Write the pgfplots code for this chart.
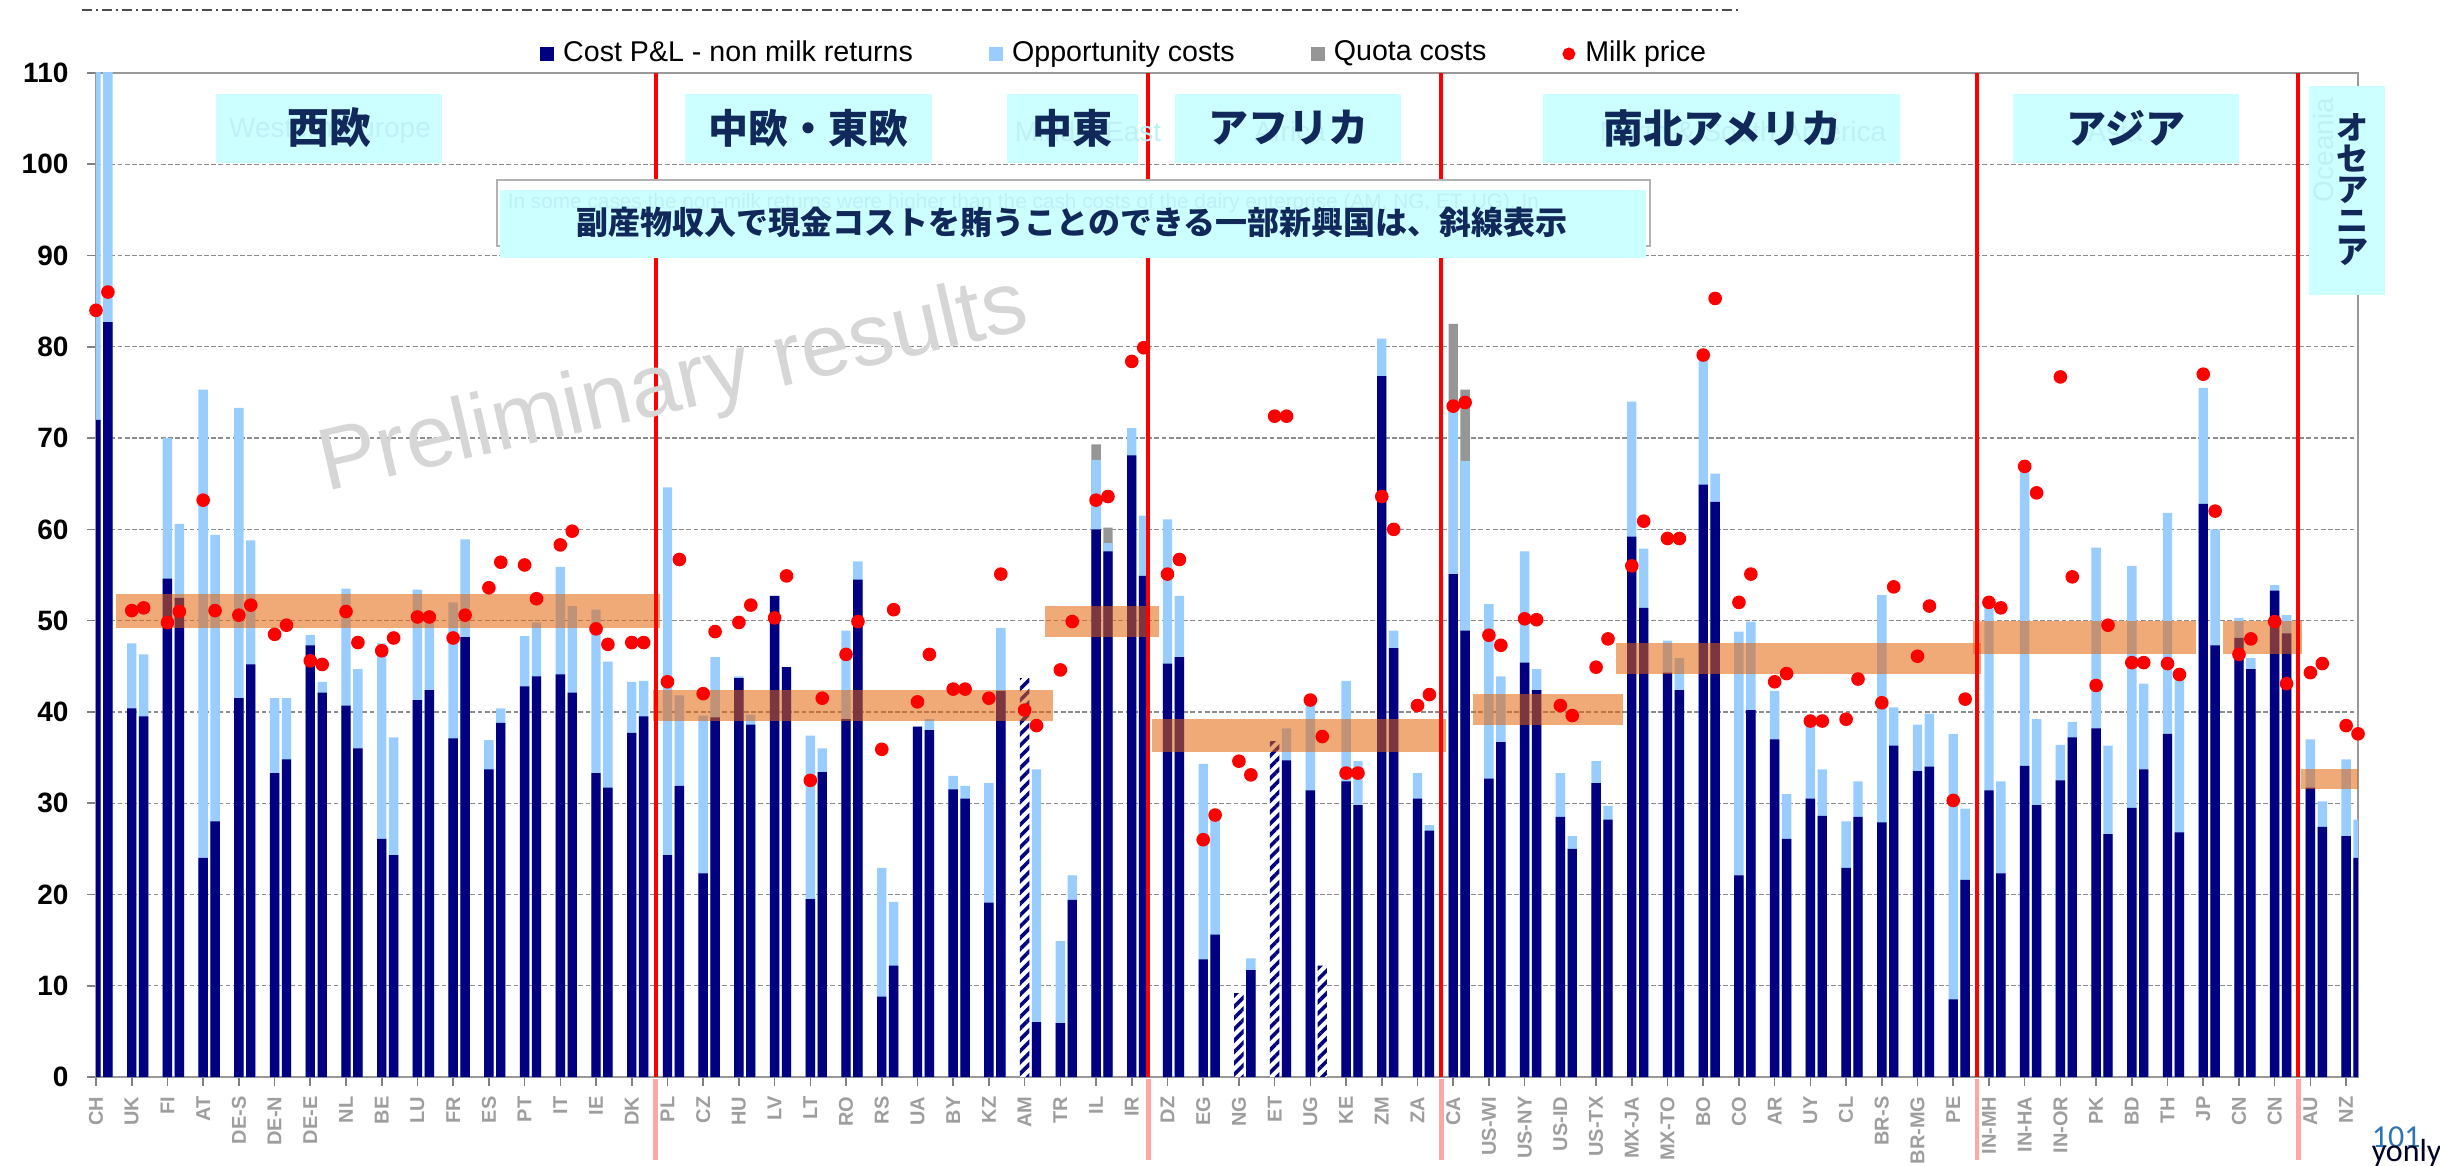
\documentclass[border=0pt]{standalone}
\usepackage{fontspec}
\setmainfont{Liberation Sans}
\newfontfamily\jp{Noto Sans CJK JP}
\newfontfamily\carlito{Carlito}
\usepackage{pgfplots}
\pgfplotsset{compat=1.18}
\usetikzlibrary{patterns.meta}

\definecolor{navybar}{RGB}{0,0,128}
\definecolor{oppblue}{RGB}{153,204,255}
\definecolor{quotagray}{RGB}{150,150,150}
\definecolor{band}{RGB}{225,100,10}
\definecolor{boxcyan}{RGB}{204,255,255}
\definecolor{ghost}{RGB}{188,242,246}
\definecolor{jpnavy}{RGB}{17,40,90}
\definecolor{pageblue}{RGB}{46,117,182}

\pgfplotsset{mybar/.style={ybar, bar width=2.35pt, bar shift=0pt, draw=none, forget plot}}

\begin{document}
\begin{tikzpicture}
\path[use as bounding box] (0,0) rectangle (610pt,-291.5pt);
\begin{axis}[
  at={(24pt,-269.25pt)}, anchor=south west,
  scale only axis, width=565.5pt, height=251pt,
  xmin=0, xmax=190, ymin=0, ymax=110,
  ytick={0,10,...,110},
  xtick={0,3,...,189},
  xticklabels={CH,UK,FI,AT,DE-S,DE-N,DE-E,NL,BE,LU,FR,ES,PT,IT,IE,DK,
    PL,CZ,HU,LV,LT,RO,RS,UA,BY,KZ,AM,TR,IL,IR,DZ,EG,NG,ET,UG,KE,ZM,ZA,
    CA,US-WI,US-NY,US-ID,US-TX,MX-JA,MX-TO,BO,CO,AR,UY,CL,BR-S,BR-MG,PE,
    IN-MH,IN-HA,IN-OR,PK,BD,TH,JP,CN,CN,AU,NZ},
  tick align=outside, tick pos=left,
  major tick length=2.2pt,
  tick style={black!50, line width=0.4pt},
  axis line style={black!40, line width=0.6pt},
  ymajorgrids,
  grid style={black!45, line width=0.3pt, dash pattern=on 1.2pt off 0.6pt},
  /pgf/number format/assume math mode=true,
  yticklabel style={font=\bfseries\fontsize{7}{8}\selectfont, inner sep=0pt, anchor=east},
  yticklabel shift=4.5pt,
  xticklabel style={font=\bfseries\fontsize{5}{6}\selectfont, text=black!38, rotate=90, anchor=east, inner sep=0pt},
  xticklabel shift=2.5pt,
  legend columns=4,
  legend cell align=left,
  legend style={draw=none, fill=none, at={(0.1963,1.019)}, anchor=west,
    inner sep=0pt, outer sep=0pt, font=\fontsize{7.15}{8}\selectfont,
    nodes={inner sep=0pt},
    /tikz/every even column/.append style={column sep=19pt}},
]
\addlegendimage{legend image code/.code={\fill[navybar] (0pt,-1.5pt) rectangle (3.2pt,1.5pt); \path (5.4pt,0pt);}}
\addlegendentry{Cost P\&L - non milk returns}
\addlegendimage{legend image code/.code={\fill[oppblue] (0pt,-1.5pt) rectangle (3.2pt,1.5pt); \path (5.4pt,0pt);}}
\addlegendentry{Opportunity costs}
\addlegendimage{legend image code/.code={\fill[quotagray] (0pt,-1.5pt) rectangle (3.2pt,1.5pt); \path (5.4pt,0pt);}}
\addlegendentry{Quota costs}
\addlegendimage{legend image code/.code={\fill[red] (1.5pt,0pt) circle (1.4pt); \path (5.4pt,0pt);}}
\addlegendentry{Milk price}

% quota costs (cumulative top)
\addplot[mybar, fill=quotagray] coordinates {(84,69.3)(85,60.2)(114,82.5)(115,75.3)};
% opportunity costs (cumulative top)
\addplot[mybar, fill=oppblue] coordinates {
(0,120)(1,120)(3,47.5)(4,46.3)(6,70.0)(7,60.6)(9,75.3)(10,59.4)(12,73.3)(13,58.8)
(15,41.5)(16,41.5)(18,48.4)(19,43.3)(21,53.5)(22,44.7)(24,47.5)(25,37.2)(27,53.4)(28,49.8)
(30,52.0)(31,58.9)(33,36.9)(34,40.4)(36,48.3)(37,49.8)(39,55.9)(40,51.6)(42,51.2)(43,45.5)
(45,43.3)(46,43.4)(48,64.6)(49,41.8)(51,39.6)(52,46.0)(54,43.9)(55,39.7)(57,52.7)(58,44.9)
(60,37.4)(61,36.0)(63,48.9)(64,56.5)(66,22.9)(67,19.2)(69,38.4)(70,39.2)(72,33.0)(73,31.9)
(75,32.2)(76,49.2)(79,33.7)(81,14.9)(82,22.1)(84,67.6)(85,58.5)(87,71.1)(88,61.5)(90,61.1)
(91,52.7)(93,34.3)(94,28.6)(97,13.0)(100,38.2)(102,41.1)(105,43.4)(106,34.6)(108,80.9)(109,48.9)
(111,33.3)(112,27.6)(114,73.3)(115,67.5)(117,51.8)(118,43.9)(120,57.6)(121,44.7)(123,33.3)(124,26.4)
(126,34.6)(127,29.7)(129,74.0)(130,57.9)(132,47.8)(133,45.9)(135,79.1)(136,66.1)(138,48.8)(139,49.9)
(141,42.3)(142,31.0)(144,38.6)(145,33.7)(147,28.0)(148,32.4)(150,52.8)(151,40.5)(153,38.6)(154,39.8)
(156,37.6)(157,29.4)(159,51.6)(160,32.4)(162,66.7)(163,39.2)(165,36.4)(166,38.9)(168,58.0)(169,36.3)
(171,56.0)(172,43.1)(174,61.8)(175,43.5)(177,75.5)(178,60.0)(180,50.3)(181,45.9)(183,53.9)(184,50.6)
(186,37.0)(187,30.2)(189,34.8)(190,28.2)};
% cost P&L - non milk returns
\addplot[mybar, fill=navybar] coordinates {
(0,72.0)(1,82.7)(3,40.4)(4,39.5)(6,54.6)(7,52.5)(9,24.0)(10,28.0)(12,41.5)(13,45.2)
(15,33.3)(16,34.8)(18,47.3)(19,42.1)(21,40.7)(22,36.0)(24,26.1)(25,24.3)(27,41.3)(28,42.4)
(30,37.1)(31,48.2)(33,33.7)(34,38.8)(36,42.8)(37,43.9)(39,44.1)(40,42.1)(42,33.3)(43,31.7)
(45,37.7)(46,39.5)(48,24.3)(49,31.9)(51,22.3)(52,39.4)(54,43.7)(55,38.6)(57,52.7)(58,44.9)
(60,19.5)(61,33.4)(63,39.2)(64,54.5)(66,8.8)(67,12.2)(69,38.4)(70,38.0)(72,31.5)(73,30.5)
(75,19.1)(76,42.3)(79,6.0)(81,5.9)(82,19.4)(84,60.0)(85,57.6)(87,68.1)(88,54.9)(90,45.3)
(91,46.0)(93,12.9)(94,15.6)(97,11.7)(100,34.7)(102,31.4)(105,32.4)(106,29.8)(108,76.8)(109,47.0)
(111,30.5)(112,27.0)(114,55.1)(115,48.9)(117,32.7)(118,36.7)(120,45.4)(121,42.4)(123,28.5)(124,25.0)
(126,32.2)(127,28.2)(129,59.2)(130,51.4)(132,44.3)(133,42.4)(135,64.9)(136,63.0)(138,22.1)(139,40.2)
(141,37.0)(142,26.1)(144,30.5)(145,28.6)(147,22.9)(148,28.5)(150,27.9)(151,36.3)(153,33.5)(154,34.0)
(156,8.5)(157,21.6)(159,31.4)(160,22.3)(162,34.1)(163,29.8)(165,32.5)(166,37.2)(168,38.2)(169,26.6)
(171,29.5)(172,33.7)(174,37.6)(175,26.8)(177,62.8)(178,47.3)(180,48.1)(181,44.7)(183,53.3)(184,48.6)
(186,31.7)(187,27.4)(189,26.4)(190,24.0)};
% hatched: non-milk returns above cash costs
\addplot[mybar, fill=white] coordinates {(78,43.7)(96,9.2)(99,36.8)(103,12.2)};
\addplot[mybar, pattern={Lines[angle=45,distance=2pt,line width=0.9pt]}, pattern color=navybar]
  coordinates {(78,43.7)(96,9.2)(99,36.8)(103,12.2)};

% regional average bands
\fill[band, fill opacity=0.55] (axis cs:1.7,49.2) rectangle (axis cs:47.4,52.9);
\fill[band, fill opacity=0.55] (axis cs:46.8,39.0) rectangle (axis cs:80.4,42.4);
\fill[band, fill opacity=0.55] (axis cs:79.7,48.2) rectangle (axis cs:89.3,51.6);
\fill[band, fill opacity=0.55] (axis cs:88.7,35.6) rectangle (axis cs:113.4,39.2);
\fill[band, fill opacity=0.55] (axis cs:115.7,38.6) rectangle (axis cs:128.3,42.0);
\fill[band, fill opacity=0.55] (axis cs:127.7,44.1) rectangle (axis cs:158.3,47.6);
\fill[band, fill opacity=0.55] (axis cs:157.7,46.3) rectangle (axis cs:176.4,50.0);
\fill[band, fill opacity=0.55] (axis cs:178.7,46.3) rectangle (axis cs:185.3,50.0);
\fill[band, fill opacity=0.55] (axis cs:185.2,31.5) rectangle (axis cs:190,33.7);

% milk price
\addplot[only marks, mark=*, mark size=1.5pt, color=red, mark options={draw=none, fill=red}, forget plot] coordinates {
(0,84.0)(1,86.0)(3,51.1)(4,51.4)(6,49.8)(7,51.0)(9,63.2)(10,51.1)(12,50.6)(13,51.7)
(15,48.5)(16,49.5)(18,45.6)(19,45.2)(21,51.0)(22,47.6)(24,46.7)(25,48.1)(27,50.4)(28,50.4)
(30,48.1)(31,50.6)(33,53.6)(34,56.4)(36,56.1)(37,52.4)(39,58.3)(40,59.8)(42,49.1)(43,47.4)
(45,47.6)(46,47.6)(48,43.3)(49,56.7)(51,42.0)(52,48.8)(54,49.8)(55,51.7)(57,50.3)(58,54.9)
(60,32.5)(61,41.5)(63,46.3)(64,49.9)(66,35.9)(67,51.2)(69,41.1)(70,46.3)(72,42.5)(73,42.5)
(75,41.5)(76,55.1)(78,40.2)(79,38.5)(81,44.6)(82,49.9)(84,63.2)(85,63.6)(87,78.4)(88,79.9)
(90,55.1)(91,56.7)(93,26.0)(94,28.7)(96,34.6)(97,33.1)(99,72.4)(100,72.4)(102,41.3)(103,37.3)
(105,33.3)(106,33.3)(108,63.6)(109,60.0)(111,40.7)(112,41.9)(114,73.5)(115,73.9)(117,48.4)(118,47.3)
(120,50.2)(121,50.1)(123,40.7)(124,39.6)(126,44.9)(127,48.0)(129,56.0)(130,60.9)(132,59.0)(133,59.0)
(135,79.1)(136,85.3)(138,52.0)(139,55.1)(141,43.3)(142,44.2)(144,39.0)(145,39.0)(147,39.2)(148,43.6)
(150,41.0)(151,53.7)(153,46.1)(154,51.6)(156,30.3)(157,41.4)(159,52.0)(160,51.4)(162,66.9)(163,64.0)
(165,76.7)(166,54.8)(168,42.9)(169,49.5)(171,45.4)(172,45.4)(174,45.3)(175,44.1)(177,77.0)(178,62.0)
(180,46.3)(181,48.0)(183,49.9)(184,43.1)(186,44.3)(187,45.3)(189,38.5)(190,37.6)};

% region separators
\draw[red, line width=1pt] (axis cs:47,0) -- (axis cs:47,110);
\draw[red, line width=1pt] (axis cs:88.4,0) -- (axis cs:88.4,110);
\draw[red, line width=1pt] (axis cs:113,0) -- (axis cs:113,110);
\draw[red, line width=1pt] (axis cs:158,0) -- (axis cs:158,110);
\draw[red, line width=1pt] (axis cs:185,0) -- (axis cs:185,110);
\end{axis}

% overlays, in pixel coordinates of the reference
\begin{scope}[x=0.25pt, y=-0.25pt]
\draw[black!70, line width=0.4pt, dash pattern=on 2.5pt off 1pt on 0.5pt off 1pt] (82,10) -- (1738,10);

\foreach \xx in {655.5,1148.4,1441.3,1977,2298.4}
  \draw[red!35, line width=1.2pt] (\xx,1079) -- (\xx,1160);

\node[rotate=13, text=black!16, font=\fontsize{22}{24}\selectfont] at (674,388) {Preliminary results};

% region boxes
\fill[boxcyan] (216,94) rectangle (442,163);
\node[text=ghost, font=\fontsize{7}{8}\selectfont] at (330,131) {Western Europe};
\node[text=jpnavy, font=\jp\bfseries\fontsize{10.5}{12}\selectfont] at (329,128) {西欧};

\fill[boxcyan] (685,94) rectangle (932,163);
\node[text=jpnavy, font=\jp\bfseries\fontsize{10}{12}\selectfont] at (808,128) {中欧・東欧};

\fill[boxcyan] (1007,94) rectangle (1138,163);
\node[text=ghost, font=\fontsize{7}{8}\selectfont] at (1088,131) {Middle East};
\node[text=jpnavy, font=\jp\bfseries\fontsize{10}{12}\selectfont] at (1072,128) {中東};

\fill[boxcyan] (1175,94) rectangle (1401,163);
\node[text=ghost, font=\fontsize{7}{8}\selectfont] at (1290,131) {Africa};
\node[text=jpnavy, font=\jp\bfseries\fontsize{10}{12}\selectfont] at (1288,128) {アフリカ};

\fill[boxcyan] (1543,94) rectangle (1900,163);
\node[text=ghost, font=\fontsize{7}{8}\selectfont] at (1743,131) {North \& South America};
\node[text=jpnavy, font=\jp\bfseries\fontsize{10}{12}\selectfont] at (1722,128) {南北アメリカ};

\fill[boxcyan] (2013,94) rectangle (2239,163);
\node[text=ghost, font=\fontsize{7}{8}\selectfont] at (2115,131) {Asia};
\node[text=jpnavy, font=\jp\bfseries\fontsize{10}{12}\selectfont] at (2126,128) {アジア};

\fill[boxcyan] (2309,86) rectangle (2385,295);
\node[rotate=90, text=ghost, font=\fontsize{7}{8}\selectfont] at (2323,150) {Oceania};
\node[align=center, text=jpnavy, font=\jp\bfseries\fontsize{8}{7.75}\selectfont] at (2352,190) {オ\\セ\\ア\\ニ\\ア};

% note box
\filldraw[fill=white, draw=black!30, line width=0.5pt] (497,180) rectangle (1650,246);
\fill[boxcyan] (500,190) rectangle (1646,258);
\node[anchor=west, inner sep=0pt, text=ghost, font=\fontsize{5.2}{6}\selectfont] at (507,203)
  {In some cases the non-milk returns were higher than the cash costs of the dairy enterprise (AM, NG, ET, UG). In};
\node[text=jpnavy, font=\jp\bfseries\fontsize{8}{9}\selectfont] at (1072,222)
  {副産物収入で現金コストを賄うことのできる一部新興国は、斜線表示};

% page footer fragments
\node[anchor=base west, inner sep=0pt, text=pageblue, font=\carlito\fontsize{8}{9}\selectfont] at (2371,1147) {101};
\node[anchor=base west, inner sep=0pt, text=black!85!blue, font=\carlito\fontsize{8}{9}\selectfont] at (2371,1161) {yonly};
\end{scope}
\end{tikzpicture}
\end{document}
